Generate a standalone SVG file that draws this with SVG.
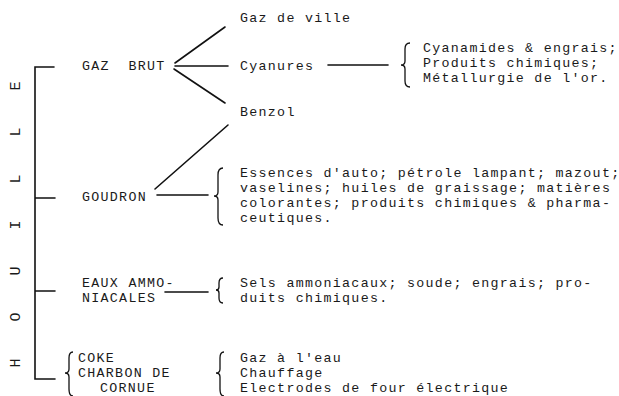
<svg xmlns="http://www.w3.org/2000/svg" width="619" height="396" viewBox="0 0 619 396">
<style>
text{font-family:"Liberation Mono","Courier New",monospace;font-size:13.3px;letter-spacing:1.3px;fill:#1a1a1a;white-space:pre}
.v{font-size:15px;letter-spacing:0}
.ln{stroke:#111;stroke-width:1.6;fill:none;stroke-linecap:round}
.br{stroke:#111;stroke-width:1.3;fill:none}
</style>
<rect width="619" height="396" fill="#fff"/>
<g id="houille">
<text class="v" transform="translate(20,86) rotate(-90)" text-anchor="middle">E</text>
<text class="v" transform="translate(20,132) rotate(-90)" text-anchor="middle">L</text>
<text class="v" transform="translate(20,179) rotate(-90)" text-anchor="middle">L</text>
<text class="v" transform="translate(20,225) rotate(-90)" text-anchor="middle">I</text>
<text class="v" transform="translate(20,271) rotate(-90)" text-anchor="middle">U</text>
<text class="v" transform="translate(20,317) rotate(-90)" text-anchor="middle">O</text>
<text class="v" transform="translate(20,363) rotate(-90)" text-anchor="middle">H</text>
</g>
<g id="gaz-brut"><text x="82" y="70" xml:space="preserve">GAZ  BRUT</text></g>
<g id="gaz-de-ville"><text x="240" y="22">Gaz de ville</text></g>
<g id="cyanures"><text x="240" y="70">Cyanures</text></g>
<g id="benzol"><text x="240" y="116">Benzol</text></g>
<g id="cyanures-uses">
<text x="423" y="52">Cyanamides &amp; engrais;</text>
<text x="423" y="67">Produits chimiques;</text>
<text x="423" y="82">Métallurgie de l'or.</text>
</g>
<g id="goudron"><text x="82" y="201">GOUDRON</text></g>
<g id="goudron-uses">
<text x="240" y="177">Essences d'auto; pétrole lampant; mazout;</text>
<text x="240" y="192">vaselines; huiles de graissage; matières</text>
<text x="240" y="207">colorantes; produits chimiques &amp; pharma-</text>
<text x="240" y="222">ceutiques.</text>
</g>
<g id="eaux">
<text x="82" y="287">EAUX AMMO-</text>
<text x="82" y="302">NIACALES</text>
</g>
<g id="eaux-uses">
<text x="240" y="287">Sels ammoniacaux; soude; engrais; pro-</text>
<text x="240" y="302">duits chimiques.</text>
</g>
<g id="coke">
<text x="78" y="362">COKE</text>
<text x="78" y="377">CHARBON DE</text>
<text x="100" y="392">CORNUE</text>
</g>
<g id="coke-uses">
<text x="240" y="362">Gaz à l'eau</text>
<text x="240" y="377">Chauffage</text>
<text x="240" y="392">Electrodes de four électrique</text>
</g>
<g id="connectors">
<path class="ln" d="M54,67 H35 V379 H55 M35,198 H55 M35,291 H55"/>
<path class="ln" d="M175,63 L225,27 M175,66 H228 M174,69 L225,103"/>
<path class="ln" d="M155,189 L228,125 M157,195 H208"/>
<path class="ln" d="M328,65 H388"/>
<path class="ln" d="M165,292 H208"/>
<path class="br" d="M410,43 Q405,43 405,49 L405,61 Q405,65 401,65 Q405,65 405,69 L405,81 Q405,87 410,87"/>
<path class="br" d="M223,168 Q218,168 218,175 L218,192 Q218,196 214,196 Q218,196 218,200 L218,218 Q218,225 223,225"/>
<path class="br" d="M223,278 Q219,278 219,283 L219,287 Q219,290 216,290 Q219,290 219,293 L219,298 Q219,303 223,303"/>
<path class="br" d="M73,352 Q69,352 69,358 L69,369 Q69,373 65,373 Q69,373 69,377 L69,389 Q69,396 73,396"/>
<path class="br" d="M224,352 Q220,352 220,358 L220,369 Q220,373 216,373 Q220,373 220,377 L220,389 Q220,396 224,396"/>
</g>
</svg>
